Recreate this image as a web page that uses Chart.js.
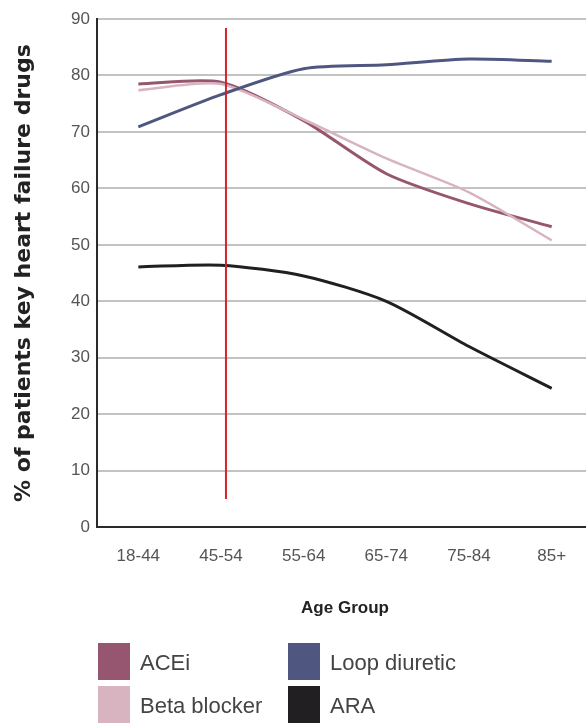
<!DOCTYPE html>
<html>
<head>
<meta charset="utf-8">
<script src="https://cdn.jsdelivr.net/npm/chart.js@4/dist/chart.umd.min.js"></script>
<style>
  html, body { margin: 0; padding: 0; background: #fff; overflow: hidden; width: 586px; height: 725px; }
  #wrap { position: relative; width: 600px; height: 725px; }
  canvas { position: absolute; left: 0; top: 0; }
  .legend { position: absolute; font-family: 'Liberation Sans', Arial, sans-serif; font-size: 22px; color: #444; }
  .item { position: absolute; height: 37px; white-space: nowrap; }
  .swatch { position: absolute; left: 0; top: 0; width: 32px; height: 37px; }
  .label { position: absolute; left: 42px; top: 8px; line-height: 24px; }
</style>
</head>
<body>
<div id="wrap">
  <canvas id="chart" width="600" height="725"></canvas>
  <div class="legend" id="legend"></div>
</div>
<script>
// Age bands on the x axis
const ageGroups = ['18-44', '45-54', '55-64', '65-74', '75-84', '85+'];

// Share of patients (%) on each drug class, per age band
const aceiValues = [78.5, 78.8, 72.0, 62.6, 57.3, 53.2];
const betaBlockerValues = [77.4, 78.5, 72.2, 65.3, 59.3, 50.8];
const loopDiureticValues = [70.9, 76.6, 81.2, 81.9, 82.9, 82.5];
const araValues = [46.1, 46.4, 44.5, 40.0, 32.0, 24.6];

// y axis ticks
const yTicks = [0, 10, 20, 30, 40, 50, 60, 70, 80, 90];

// vertical marker near the 45-54 band: category position and value span
const markerCategory = 1.06;
const markerRange = [5, 88.4];

const seriesNames = ['ACEi', 'Beta blocker', 'Loop diuretic', 'ARA'];
const seriesColors = ['#97566f', '#d8b4c1', '#4f5781', '#221f22'];

const FONT = "'Liberation Sans', Arial, sans-serif";

const markerPlugin = {
  id: 'marker',
  afterDatasetsDraw(chart) {
    const x = chart.scales.x, y = chart.scales.y;
    const step = x.getPixelForValue(1) - x.getPixelForValue(0);
    const px = x.getPixelForValue(0) + markerCategory * step;
    const ctx = chart.ctx;
    ctx.save();
    ctx.strokeStyle = '#d3222c';
    ctx.lineWidth = 2;
    ctx.beginPath();
    ctx.moveTo(px, y.getPixelForValue(markerRange[1]));
    ctx.lineTo(px, y.getPixelForValue(markerRange[0]));
    ctx.stroke();
    ctx.restore();
  }
};

const ds = (i, data, width) => ({
  label: seriesNames[i],
  data,
  borderColor: seriesColors[i],
  backgroundColor: seriesColors[i],
  borderWidth: width,
  pointRadius: 0,
  tension: 0.25,
  fill: false
});

new Chart(document.getElementById('chart'), {
  type: 'line',
  data: {
    labels: ageGroups,
    datasets: [
      ds(3, araValues, 3),
      ds(2, loopDiureticValues, 3),
      ds(1, betaBlockerValues, 2.5),
      ds(0, aceiValues, 3)
    ]
  },
  options: {
    responsive: false,
    animation: false,
    devicePixelRatio: 1,
    layout: { padding: { top: 19, right: 7, bottom: 102, left: 0 } },
    plugins: { legend: { display: false }, tooltip: { enabled: false } },
    scales: {
      x: {
        offset: true,
        grid: { display: false, drawTicks: false },
        border: { display: true, color: '#2a2a2a', width: 2 },
        ticks: { color: '#555', font: { family: FONT, size: 17 }, padding: 19, maxRotation: 0 },
        title: { display: true, text: 'Age Group', color: '#222', font: { family: FONT, size: 17, weight: 'bold' }, padding: { top: 13 } }
      },
      y: {
        min: 0, max: 90,
        afterBuildTicks: s => { s.ticks = yTicks.map(v => ({ value: v })); },
        afterFit: s => { s.width = 97; },
        grid: { color: '#c3c3c3', lineWidth: 2, drawTicks: false },
        border: { display: true, color: '#2a2a2a', width: 2 },
        ticks: { color: '#555', font: { family: FONT, size: 17 }, padding: 7 },
        title: { display: true, text: '% of patients key heart failure drugs', color: '#222', font: { family: "'DejaVu Sans', sans-serif", size: 22, weight: 'bold' }, padding: { top: 11, bottom: 0 } }
      }
    }
  },
  plugins: [markerPlugin]
});

// two-column legend under the axis title
const legendEl = document.getElementById('legend');
const legendLayout = [
  { i: 0, left: 98, top: 643 },
  { i: 1, left: 98, top: 686 },
  { i: 2, left: 288, top: 643 },
  { i: 3, left: 288, top: 686 }
];
legendLayout.forEach(({ i, left, top }) => {
  const item = document.createElement('div');
  item.className = 'item';
  item.style.left = left + 'px';
  item.style.top = top + 'px';
  const sw = document.createElement('div');
  sw.className = 'swatch';
  sw.style.background = seriesColors[i];
  const lb = document.createElement('div');
  lb.className = 'label';
  lb.textContent = seriesNames[i];
  item.appendChild(sw);
  item.appendChild(lb);
  legendEl.appendChild(item);
});
</script>
</body>
</html>
